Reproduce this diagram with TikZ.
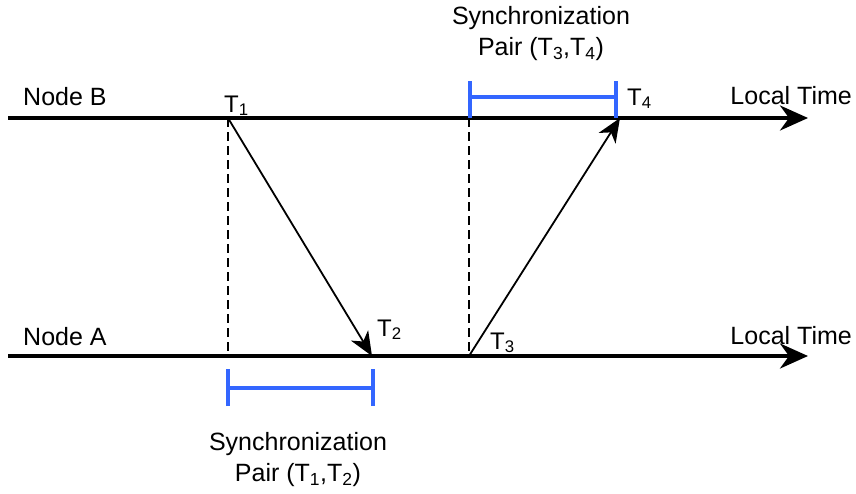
\documentclass[tikz,border=0pt]{standalone}
\usepackage{fontspec}
\setmainfont{Liberation Sans}
\usetikzlibrary{arrows.meta}
\definecolor{syncblue}{RGB}{51,102,255}
\begin{document}
\begin{tikzpicture}[x=1pt,y=-1pt,
  timeline/.style={line width=3.6pt,-{Stealth[length=28pt,width=25pt,inset=9pt]}},
  msg/.style={line width=1.8pt,-{Stealth[length=24pt,width=20pt,inset=7pt]}},
  guide/.style={line width=1.9pt,dash pattern=on 9pt off 5pt},
  bracket/.style={syncblue,line width=3.6pt},
  lbl/.style={font=\fontsize{25}{31}\selectfont,inner sep=0pt},
  tlbl/.style={font=\fontsize{24}{28}\selectfont,inner sep=0pt,anchor=base west}]
\useasboundingbox (0,0) rectangle (856,493);
% time lines
\coordinate (Bs) at (8,118);
\coordinate (Be) at (808,118);
\coordinate (As) at (8,356);
\coordinate (Ae) at (808,356);
\coordinate (T1) at (228,118);
\coordinate (T2) at (372,356);
\coordinate (T3) at (469,356);
\coordinate (T4) at (620,118);
\coordinate (D1) at (228,356);
\coordinate (D2) at (469,118);
\draw[timeline] (Bs) -- (Be);
\draw[timeline] (As) -- (Ae);
% guides
\draw[guide] (T1) -- (D1);
\draw[guide] (D2) -- (T3);
% messages
\draw[msg] (T1) -- (T2);
\draw[msg] (T3) -- (T4);
% brackets
\coordinate (ta) at (470,97);
\coordinate (tb) at (616,97);
\coordinate (ba) at (228,388);
\coordinate (bb) at (373,388);
\draw[bracket] (ta) -- (tb);
\draw[bracket] ([yshift=-21pt]ta) -- ([yshift=16pt]ta);
\draw[bracket] ([yshift=-21pt]tb) -- ([yshift=16pt]tb);
\draw[bracket] (ba) -- (bb);
\draw[bracket] ([yshift=-18pt]ba) -- ([yshift=19pt]ba);
\draw[bracket] ([yshift=-18pt]bb) -- ([yshift=19pt]bb);
% labels
\node[lbl,anchor=base west] (nb) at (23,105) {Node B};
\node[lbl,anchor=base west] (na) at (23,345) {Node A};
\node[lbl,anchor=base east] (ltb) at (852,104) {Local Time};
\node[lbl,anchor=base east] (lta) at (852,344) {Local Time};
\node[tlbl] (l1) at (224,112) {T\textsubscript{1}};
\node[tlbl] (l2) at (377,336) {T\textsubscript{2}};
\node[tlbl] (l3) at (490,349) {T\textsubscript{3}};
\node[tlbl] (l4) at (627,105) {T\textsubscript{4}};
\node[lbl,align=center] (s34) at (541,34) {Synchronization\\Pair (T\textsubscript{3},T\textsubscript{4})};
\node[lbl,align=center] (s12) at (298,460) {Synchronization\\Pair (T\textsubscript{1},T\textsubscript{2})};
\end{tikzpicture}
\end{document}
